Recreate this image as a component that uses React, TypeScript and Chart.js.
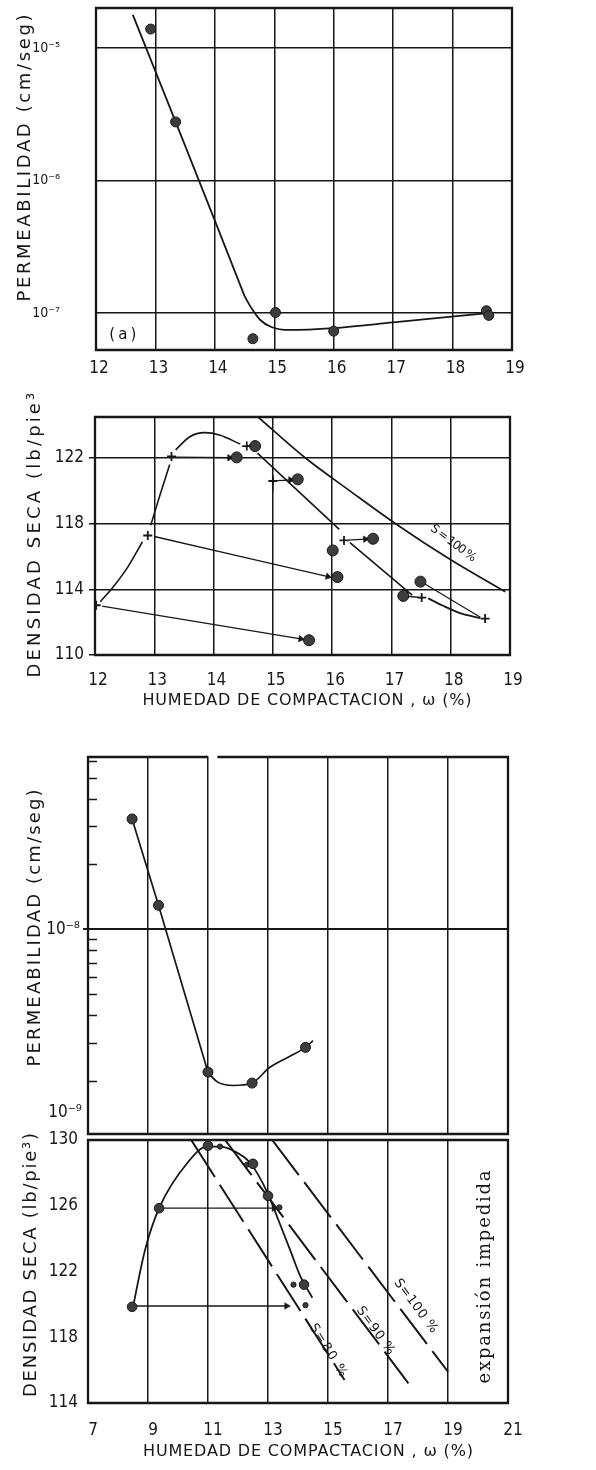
import React, { useEffect, useRef } from "react";
import { Chart, registerables } from "chart.js";

Chart.register(...registerables);

const INK = "#171717";
const DOT_FILL = "#3d3d3d";
const SANS = '"Liberation Sans Narrow", "DejaVu Sans Condensed", "DejaVu Sans", sans-serif';
const TITLE = '"DejaVu Sans", "Liberation Sans", sans-serif';
const SERIF = '"DejaVu Serif", "Liberation Serif", serif';

// ---------- (a) upper figure: permeability ----------
const aMoistureTicks = [12, 13, 14, 15, 16, 17, 18, 19];
const aPermTicks = [1e-7, 1e-6, 1e-5];
const aPermTickLabels = ["10⁻⁷", "10⁻⁶", "10⁻⁵"];
const aPointW = [12.92, 13.34, 14.64, 15.02, 16.0, 18.57, 18.61];
const aPointK = [1.39e-5, 2.77e-6, 6.4e-8, 1.01e-7, 7.3e-8, 1.04e-7, 0.96e-7];
// steep straight branch, then the rounded flat branch
const aSteepW = [12.62, 13.34, 14.0, 14.5];
const aSteepK = [1.78e-5, 2.77e-6, 4.98e-7, 1.34e-7];
const aFlatW = [14.5, 14.62, 14.76, 14.95, 15.25, 16.0, 17.0, 18.6];
const aFlatK = [1.34e-7, 1.08e-7, 8.9e-8, 7.85e-8, 7.45e-8, 7.7e-8, 8.5e-8, 1.0e-7];

// ---------- (a) upper figure: dry density ----------
const bMoistureTicks = [12, 13, 14, 15, 16, 17, 18, 19];
const bDensityTicks = [110, 114, 118, 122];
const bAfterW = [14.39, 14.7, 15.42, 16.01, 16.09, 16.69, 17.2, 17.49, 15.61];
const bAfterD = [122.04, 122.73, 120.7, 116.37, 114.75, 117.08, 113.6, 114.47, 110.9];
const bMoldedW = [12.02, 12.89, 13.29, 14.56, 15.0, 16.2, 17.51, 18.58];
const bMoldedD = [113.03, 117.28, 122.1, 122.73, 120.6, 116.98, 113.5, 112.22];
const bDryPiece1W = [12.09, 12.31, 12.56, 12.8];
const bDryPiece1D = [113.25, 114.16, 115.4, 116.9];
const bDryPiece2W = [12.94, 13.1, 13.26];
const bDryPiece2D = [117.9, 119.8, 121.6];
const bDryPiece3W = [13.36, 13.6, 13.85, 14.1, 14.45];
const bDryPiece3D = [122.5, 123.3, 123.55, 123.4, 122.85];
const bWetPiece1W = [14.74, 16.12];
const bWetPiece1D = [122.3, 117.65];
const bWetPiece2W = [16.3, 17.35];
const bWetPiece2D = [116.85, 113.65];
const bWetTailW = [17.62, 17.87, 18.2, 18.5];
const bWetTailD = [113.45, 113.0, 112.5, 112.25];
const bReturnW = [17.53, 18.5];
const bReturnD = [114.4, 112.3];
const bShortW = [14.56, 14.7, 17.2, 17.51];
const bShortD = [122.73, 122.73, 113.6, 113.5];
const bTickMarkW = [15.0, 15.0];
const bTickMarkD = [120.95, 119.95];
const bSat100W = [14.75, 15.55, 16.3, 17.07, 18.0, 18.92];
const bSat100D = [124.5, 122.0, 120.0, 118.0, 115.8, 113.85];
const bArrowFromW = [12.12, 13.0, 13.36, 15.06, 16.27];
const bArrowFromD = [112.98, 117.22, 122.05, 120.62, 117.0];
const bArrowToW = [15.47, 15.93, 14.27, 15.3, 16.56];
const bArrowToD = [110.98, 114.78, 122.02, 120.67, 117.06];

// ---------- lower figure: permeability ----------
const cMoistureTicks = [7, 9, 11, 13, 15, 17, 19, 21];
const cPermTicks = [1e-8];
const cPermTickLabels = ["10⁻⁸"];
const cPermMinor = [2e-9, 3e-9, 4e-9, 5e-9, 6e-9, 7e-9, 8e-9, 9e-9, 2e-8, 3e-8, 4e-8, 5e-8, 6e-8];
const cPointW = [8.47, 9.35, 11.0, 12.47, 14.25];
const cPointK = [3.23e-8, 1.29e-8, 2.19e-9, 1.95e-9, 2.85e-9];
const cSteepW = [8.47, 9.35, 11.0];
const cSteepK = [3.23e-8, 1.29e-8, 2.19e-9];
const cFlatW = [11.0, 11.3, 11.85, 12.47, 13.05, 13.7, 14.25, 14.5];
const cFlatK = [2.19e-9, 1.98e-9, 1.9e-9, 1.95e-9, 2.3e-9, 2.58e-9, 2.85e-9, 3.06e-9];
const cTopBreak = [10.97, 11.35];

// ---------- lower figure: dry density ----------
const dDensityTicks = [114, 118, 122, 126, 130];
const dBigDotW = [8.47, 9.37, 11.0, 12.5, 13.0, 14.2];
const dBigDotD = [119.85, 125.85, 129.65, 128.55, 126.6, 121.2];
const dSmallDotW = [11.4, 12.3, 13.38, 13.85, 14.25];
const dSmallDotD = [129.6, 128.5, 125.9, 121.2, 119.95];
const dCurveW = [8.5, 8.9, 9.37, 10.31, 10.97, 11.41, 11.84, 12.41, 12.98, 13.31, 13.74, 14.08, 14.48];
const dCurveD = [119.85, 123.3, 125.85, 128.6, 129.6, 129.6, 129.35, 128.6, 126.8, 125.3, 123.3, 121.7, 120.4];
const dSat80W = [10.44, 15.55];
const dSat80D = [130, 115.4];
const dSat90W = [11.57, 17.68];
const dSat90D = [130, 115.2];
const dSat100W = [13.14, 19.0];
const dSat100D = [130, 115.9];
const dArrowFromW = [9.47, 8.62];
const dArrowFromD = [125.85, 119.9];
const dArrowToW = [13.2, 13.62];
const dArrowToD = [125.85, 119.9];

// ---------- helpers ----------
const pts = (xs: number[], ys: number[]) => xs.map((x, i) => ({ x, y: ys[i] }));

const lineSet = (xs: number[], ys: number[], extra: any = {}) => ({
  data: pts(xs, ys),
  showLine: true,
  pointRadius: 0,
  borderColor: INK,
  borderWidth: 1.6,
  cubicInterpolationMode: "monotone",
  ...extra,
});

const dotSet = (xs: number[], ys: number[], radius = 5) => ({
  data: pts(xs, ys),
  showLine: false,
  pointStyle: "circle",
  pointRadius: radius,
  pointBackgroundColor: DOT_FILL,
  pointBorderColor: INK,
  pointBorderWidth: 1,
});

const crossSet = (xs: number[], ys: number[]) => ({
  data: pts(xs, ys),
  showLine: false,
  pointStyle: "cross",
  pointRadius: 4.5,
  pointBorderColor: INK,
  pointBorderWidth: 1.8,
});

// arrow shafts plus a triangle head turned along each shaft
const arrowSets = (fx: number[], fy: number[], tx: number[], ty: number[]) => {
  const heads = {
    data: pts(tx, ty),
    showLine: false,
    pointStyle: "triangle",
    pointRadius: 3.8,
    pointBackgroundColor: INK,
    pointBorderColor: INK,
    pointBorderWidth: 0.5,
    pointRotation: (ctx: any) => {
      const i = ctx.dataIndex;
      if (i === undefined || i === null) return 0;
      const sx = ctx.chart.scales.x;
      const sy = ctx.chart.scales.y;
      const dx = sx.getPixelForValue(tx[i]) - sx.getPixelForValue(fx[i]);
      const dy = sy.getPixelForValue(ty[i]) - sy.getPixelForValue(fy[i]);
      return (Math.atan2(dy, dx) * 180) / Math.PI + 90;
    },
  };
  const shafts = fx.map((_, i) => lineSet([fx[i], tx[i]], [fy[i], ty[i]], { borderWidth: 1.3 }));
  return [heads, ...shafts];
};

const pinX = (height: number) => (s: any) => {
  s.height = height;
  s.paddingLeft = 0;
  s.paddingRight = 0;
  s.paddingTop = 0;
  s.paddingBottom = 0;
};
const pinY = (width: number) => (s: any) => {
  s.width = width;
  s.paddingLeft = 0;
  s.paddingRight = 0;
  s.paddingTop = 0;
  s.paddingBottom = 0;
};
const setTicks = (values: number[]) => (s: any) => {
  s.ticks = values.map((v) => ({ value: v }));
};

type TextItem = {
  text: string;
  x?: number;
  y?: number;
  px?: number;
  py?: number;
  rotation?: number;
  size: number;
  family?: string;
  width?: number;
};

const textPlugin = (items: TextItem[]) => ({
  id: "figText",
  afterDatasetsDraw(chart: any) {
    const ctx = chart.ctx;
    for (const it of items) {
      const x = it.x !== undefined ? chart.scales.x.getPixelForValue(it.x) : (it.px as number);
      const y = it.y !== undefined ? chart.scales.y.getPixelForValue(it.y) : (it.py as number);
      ctx.save();
      ctx.translate(x, y);
      ctx.rotate(((it.rotation || 0) * Math.PI) / 180);
      ctx.font = `${it.size}px ${it.family || TITLE}`;
      ctx.fillStyle = INK;
      ctx.textAlign = "center";
      ctx.textBaseline = "middle";
      if (it.width) {
        ctx.letterSpacing = "0px";
        const natural = ctx.measureText(it.text).width;
        const n = Array.from(it.text).length;
        const sp = (it.width - natural) / Math.max(1, n - 1);
        ctx.letterSpacing = `${sp}px`;
        ctx.fillText(it.text, sp / 2, 0);
      } else {
        ctx.fillText(it.text, 0, 0);
      }
      ctx.restore();
    }
  },
});

const framePlugin = (topBreak: number[] | null = null) => ({
  id: "frame",
  beforeDatasetsDraw(chart: any) {
    const { ctx, chartArea: a } = chart;
    const sx = chart.scales.x;
    ctx.save();
    ctx.strokeStyle = INK;
    ctx.lineWidth = 2.3;
    ctx.lineCap = "square";
    ctx.beginPath();
    if (topBreak) {
      ctx.moveTo(a.left, a.top);
      ctx.lineTo(sx.getPixelForValue(topBreak[0]), a.top);
      ctx.moveTo(sx.getPixelForValue(topBreak[1]), a.top);
      ctx.lineTo(a.right, a.top);
    } else {
      ctx.moveTo(a.left, a.top);
      ctx.lineTo(a.right, a.top);
    }
    ctx.moveTo(a.right, a.top);
    ctx.lineTo(a.right, a.bottom);
    ctx.lineTo(a.left, a.bottom);
    ctx.lineTo(a.left, a.top);
    ctx.stroke();
    ctx.restore();
  },
});

const minorTickPlugin = (values: number[], length: number) => ({
  id: "minorTicks",
  beforeDatasetsDraw(chart: any) {
    const { ctx, chartArea: a } = chart;
    const sy = chart.scales.y;
    ctx.save();
    ctx.strokeStyle = INK;
    ctx.lineWidth = 1.3;
    ctx.beginPath();
    for (const v of values) {
      const y = Math.round(sy.getPixelForValue(v)) + 0.5;
      ctx.moveTo(a.left, y);
      ctx.lineTo(a.left + length, y);
    }
    ctx.stroke();
    ctx.restore();
  },
});

const tickFont = { family: SANS, size: 17 };
const powerTickFont = { family: SANS, size: 14 };
const gridStyle = { color: INK, lineWidth: 1.5, drawTicks: false };

const baseOptions = (padTop: number, padRight: number) => ({
  responsive: false,
  animation: false as const,
  events: [] as any[],
  layout: { padding: { left: 0, top: padTop, right: padRight, bottom: 0 } },
  plugins: { legend: { display: false }, tooltip: { enabled: false } },
});

// ---------- chart builders ----------
const W = 596;

function buildPermA() {
  const H = 392;
  return {
    type: "scatter",
    data: {
      datasets: [
        dotSet(aPointW, aPointK, 5),
        lineSet(aSteepW, aSteepK, { borderWidth: 1.8, cubicInterpolationMode: "default" }),
        lineSet(aFlatW, aFlatK, { borderWidth: 1.8 }),
      ],
    },
    options: {
      ...baseOptions(8, W - 512),
      scales: {
        x: {
          type: "linear",
          min: 12,
          max: 19,
          afterBuildTicks: setTicks(aMoistureTicks),
          afterFit: pinX(H - 350),
          grid: gridStyle,
          border: { display: false },
          ticks: { font: tickFont, color: INK, padding: 8, labelOffset: 3, callback: (v: any) => String(v) },
        },
        y: {
          type: "logarithmic",
          min: 5.26e-8,
          max: 2.005e-5,
          afterBuildTicks: setTicks(aPermTicks),
          afterFit: pinY(96),
          grid: gridStyle,
          border: { display: false },
          ticks: { font: powerTickFont, color: INK, padding: 36, callback: (_v: any, i: number) => aPermTickLabels[i] },
        },
      },
    },
    plugins: [
      framePlugin(),
      textPlugin([
        { text: "PERMEABILIDAD (cm/seg)", px: 25, py: 158, rotation: -90, size: 18, width: 287 },
        { text: "( a )", x: 12.45, y: 6.84e-8, size: 15, width: 27 },
      ]),
    ],
  };
}

function buildDensityA() {
  const H = 328;
  return {
    type: "scatter",
    data: {
      datasets: [
        crossSet(bMoldedW, bMoldedD),
        dotSet(bAfterW, bAfterD, 5.5),
        ...arrowSets(bArrowFromW, bArrowFromD, bArrowToW, bArrowToD),
        lineSet(bShortW.slice(0, 2), bShortD.slice(0, 2), { borderWidth: 1.3 }),
        lineSet(bShortW.slice(2), bShortD.slice(2), { borderWidth: 1.3 }),
        lineSet(bTickMarkW, bTickMarkD, { borderWidth: 1.3 }),
        lineSet(bDryPiece1W, bDryPiece1D),
        lineSet(bDryPiece2W, bDryPiece2D),
        lineSet(bDryPiece3W, bDryPiece3D),
        lineSet(bWetPiece1W, bWetPiece1D),
        lineSet(bWetPiece2W, bWetPiece2D),
        lineSet(bWetTailW, bWetTailD, { borderWidth: 1.8 }),
        lineSet(bReturnW, bReturnD, { borderWidth: 1.2 }),
        lineSet(bSat100W, bSat100D, { borderWidth: 1.7 }),
      ],
    },
    options: {
      ...baseOptions(25, W - 510),
      scales: {
        x: {
          type: "linear",
          min: 12,
          max: 19,
          afterBuildTicks: setTicks(bMoistureTicks),
          afterFit: pinX(H - 263),
          grid: gridStyle,
          border: { display: false },
          ticks: { font: tickFont, color: INK, padding: 15, labelOffset: 3, callback: (v: any) => String(v) },
        },
        y: {
          type: "linear",
          min: 110,
          max: 124.5,
          afterBuildTicks: setTicks(bDensityTicks),
          afterFit: pinY(95),
          grid: { color: INK, lineWidth: 1.5, drawTicks: true, tickLength: 6 },
          border: { display: false },
          ticks: { font: tickFont, color: INK, padding: 5, callback: (v: any) => String(v) },
        },
      },
    },
    plugins: [
      framePlugin(),
      textPlugin([
        { text: "DENSIDAD SECA (lb/pie³)", px: 35, py: 138, rotation: -90, size: 18, width: 295 },
        { text: "HUMEDAD DE COMPACTACION , ω (%)", px: 307, py: 309, size: 16, width: 329 },
        { text: "S = 100 %", x: 18.04, y: 116.8, rotation: 37, size: 12, width: 54 },
      ]),
    ],
  };
}

function buildPermB() {
  return {
    type: "scatter",
    data: {
      datasets: [
        dotSet(cPointW, cPointK, 5),
        lineSet(cSteepW, cSteepK, { borderWidth: 1.7, cubicInterpolationMode: "default" }),
        lineSet(cFlatW, cFlatK, { borderWidth: 1.7 }),
      ],
    },
    options: {
      ...baseOptions(37, W - 508),
      scales: {
        x: {
          type: "linear",
          min: 7,
          max: 21,
          afterBuildTicks: setTicks(cMoistureTicks),
          afterFit: pinX(0),
          grid: gridStyle,
          border: { display: false },
          ticks: { display: false },
        },
        y: {
          type: "logarithmic",
          min: 1.135e-9,
          max: 6.24e-8,
          afterBuildTicks: setTicks(cPermTicks),
          afterFit: pinY(88),
          grid: { color: INK, lineWidth: 2, drawTicks: true, tickLength: 5 },
          border: { display: false },
          ticks: { font: tickFont, color: INK, padding: 3, callback: (_v: any, i: number) => cPermTickLabels[i] },
        },
      },
    },
    plugins: [
      framePlugin(cTopBreak),
      minorTickPlugin(cPermMinor, 9),
      textPlugin([
        { text: "PERMEABILIDAD (cm/seg)", px: 35, py: 208, rotation: -90, size: 18, width: 277 },
        { text: "10⁻⁹", px: 65, py: 393, size: 17, family: SANS },
      ]),
    ],
  };
}

function buildDensityB() {
  const H = 370;
  const dashed = { borderWidth: 2, borderDash: [44, 9], cubicInterpolationMode: "default" };
  return {
    type: "scatter",
    data: {
      datasets: [
        dotSet(dBigDotW, dBigDotD, 4.8),
        dotSet(dSmallDotW, dSmallDotD, 2.6),
        ...arrowSets(dArrowFromW, dArrowFromD, dArrowToW, dArrowToD),
        lineSet(dCurveW, dCurveD, { borderWidth: 1.8 }),
        lineSet(dSat80W, dSat80D, dashed),
        lineSet(dSat90W, dSat90D, dashed),
        lineSet(dSat100W, dSat100D, dashed),
      ],
    },
    options: {
      ...baseOptions(40, W - 508),
      scales: {
        x: {
          type: "linear",
          min: 7,
          max: 21,
          afterBuildTicks: setTicks(cMoistureTicks),
          afterFit: pinX(H - 303),
          grid: gridStyle,
          border: { display: false },
          ticks: { font: tickFont, color: INK, padding: 17, labelOffset: 5, callback: (v: any) => String(v) },
        },
        y: {
          type: "linear",
          min: 114,
          max: 130,
          afterBuildTicks: setTicks(dDensityTicks),
          afterFit: pinY(88),
          grid: { drawOnChartArea: false, drawTicks: false },
          border: { display: false },
          ticks: { font: tickFont, color: INK, padding: 10, callback: (v: any) => String(v) },
        },
      },
    },
    plugins: [
      framePlugin(),
      textPlugin([
        { text: "DENSIDAD SECA (lb/pie³)", px: 31, py: 165, rotation: -90, size: 18, width: 264 },
        { text: "HUMEDAD DE COMPACTACION , ω (%)", px: 308, py: 352, size: 16, width: 330 },
        { text: "S=80 %", x: 15.0, y: 117.2, rotation: 58, size: 13, width: 60 },
        { text: "S=90 %", x: 16.58, y: 118.4, rotation: 54, size: 13, width: 56 },
        { text: "S=100 %", x: 17.92, y: 119.9, rotation: 53, size: 13, width: 64 },
        { text: "expansión impedida", x: 20.26, y: 121.67, rotation: -90, size: 18, family: SERIF, width: 213 },
      ]),
    ],
  };
}

function Panel(props: { top: number; height: number; build: () => any }) {
  const ref = useRef<HTMLCanvasElement | null>(null);
  useEffect(() => {
    if (!ref.current) return;
    const chart = new Chart(ref.current, props.build());
    return () => chart.destroy();
  }, []);
  return (
    <canvas
      ref={ref}
      width={W}
      height={props.height}
      style={{ position: "absolute", left: 0, top: props.top, width: W, height: props.height }}
    />
  );
}

export default function App() {
  return (
    <div style={{ position: "absolute", left: 0, top: 0, width: W, height: 1470, background: "#ffffff", overflow: "hidden" }}>
      <Panel top={0} height={392} build={buildPermA} />
      <Panel top={392} height={328} build={buildDensityA} />
      <Panel top={720} height={420} build={buildPermB} />
      <Panel top={1100} height={370} build={buildDensityB} />
    </div>
  );
}
